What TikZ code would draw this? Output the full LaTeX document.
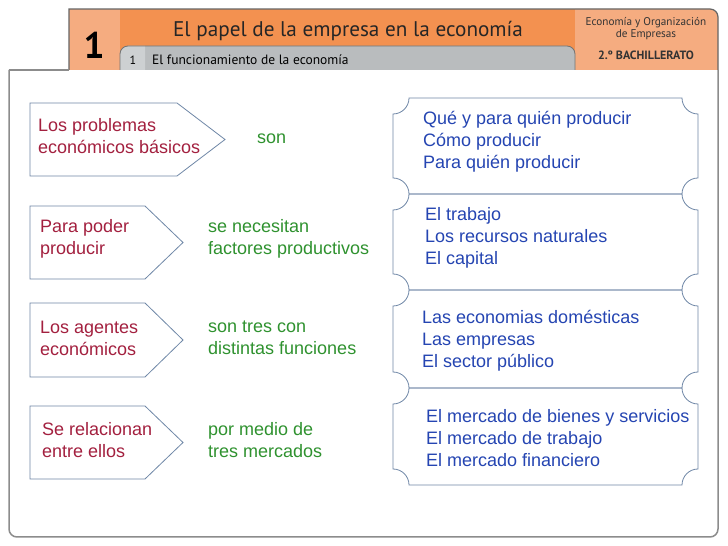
\documentclass[tikz,border=0pt]{standalone}
\usepackage{fontspec}
\setmainfont{Liberation Sans}
\newfontfamily\headfont{PT Sans}
\usetikzlibrary{calc}
\definecolor{orangemain}{HTML}{F39150}
\definecolor{orangelight}{HTML}{F5AC80}
\definecolor{tabgrey}{HTML}{B9BCBE}
\definecolor{tablight}{HTML}{CDD0D2}
\definecolor{boxblue}{HTML}{6F87A7}
\definecolor{redtext}{HTML}{A3203F}
\definecolor{greentext}{HTML}{2F922F}
\definecolor{bluetext}{HTML}{2545B2}
\def\arrowbox(#1,#2)(#3,#4)#5{\draw[boxline] (#1,#2) -- (#3,#2) -- (#5,{(#2+#4)/2}) -- (#3,#4) -- (#1,#4) -- cycle;}
\def\ticket(#1,#2)(#3,#4){\draw[boxline] (#1+16,#4) -- (#3-16,#4) arc (180:270:16) -- (#3,#2+16) arc (90:180:16) -- (#1+16,#2) arc (0:90:16) -- (#1,#4-16) arc (270:360:16) -- cycle;}
\tikzset{
  boxline/.style={line width=0.8pt, color=boxblue},
  txt/.style={inner sep=0pt, anchor=west, align=left, font=\fontsize{18}{21.8}\selectfont},
  redtxt/.style={txt, text=redtext},
  greentxt/.style={txt, text=greentext},
  bluetxt/.style={txt, text=bluetext}
}

\begin{document}
\begin{tikzpicture}[x=1pt, y=1pt]
		%%%%% START %%%%%
		\useasboundingbox (0,0) rectangle (728,546);
		\fill[white] (0,0) rectangle (728,546);
		
		% header
		\fill[orangelight] (69,476) rectangle (120,537);
		\fill[orangemain] (120,476) rectangle (575,537);
		\fill[orangelight] (575,476) -- (575,537) -- (710,537) arc (90:0:8) -- (718,476) -- cycle;
		\fill[tabgrey] (120,476) -- (120,492) arc (180:90:8) -- (567,500) arc (90:0:8) -- (575,476) -- cycle;
		\fill[tablight] (120,476) -- (120,492) arc (180:90:8) -- (145,500) -- (145,476) -- cycle;
		\draw[line width=0.8pt, color=black!55] (120,476) -- (120,492) arc (180:90:8) -- (567,500) arc (90:0:8) -- (575,476);
		\draw[line width=1.2pt, color=black!60] (69,476) -- (69,537) -- (710,537) arc (90:0:8) -- (718,476);
		
		\node[inner sep=0pt, font=\headfont\bfseries\fontsize{37}{37}\selectfont] (unit) at (94,501) {1};
		\node[inner sep=0pt, font=\headfont\fontsize{21.2}{22}\selectfont, text=black!85] (title) at (348,515) {El papel de la empresa en la economía};
		\node[inner sep=0pt, font=\headfont\fontsize{12}{12}\selectfont] (tabnum) at (133,486) {1};
		\node[inner sep=0pt, anchor=west, font=\headfont\fontsize{13.5}{14}\selectfont] (subtitle) at (152,486) {El funcionamiento de la economía};
		\node[inner sep=0pt, font=\headfont\fontsize{11.2}{12}\selectfont, text=black!80] (subject) at (646,523) {Economía y Organización};
		\node[inner sep=0pt, font=\headfont\fontsize{11.2}{12}\selectfont, text=black!80] (subject2) at (646,511) {de Empresas};
		\node[inner sep=0pt, font=\headfont\bfseries\fontsize{12}{12}\selectfont, text=black!80] (course) at (646,491) {2.º BACHILLERATO};
		
		% frame
		\draw[line width=1.5pt, color=black!45] (9,476) -- (69,476);
		\draw[line width=1.5pt, color=black!45, rounded corners=8] (9,476) -- (9,9) -- (718,9) -- (718,476);
		
		% left column
		\arrowbox(30,443)(177,370){225}
		\arrowbox(30,340)(145,267){183}
		\arrowbox(30,243)(145,169){183}
		\arrowbox(30,140)(145,67){183}
		
		\node[redtxt] (prob) at (38,410) {Los problemas\\económicos básicos};
		\node[redtxt] (poder) at (40,307) {Para poder\\producir};
		\node[redtxt] (agentes) at (40,208) {Los agentes\\económicos};
		\node[redtxt] (relac) at (42,106) {Se relacionan\\entre ellos};
		
		\node[greentxt] (son) at (257,407) {son};
		\node[greentxt] (necesitan) at (208,307) {se necesitan\\factores productivos};
		\node[greentxt] (tres) at (208,208) {son tres con\\distintas funciones};
		\node[greentxt] (medio) at (208,106) {por medio de\\tres mercados};
		
		% right column
		\ticket(393,352)(698,448)
		\ticket(393,256)(698,352)
		\ticket(393,158)(698,256)
		\ticket(393,61)(698,158)
		
		\node[bluetxt] (preguntas) at (423,404) {Qué y para quién producir\\Cómo producir\\Para quién producir};
		\node[bluetxt] (factores) at (425,308) {El trabajo\\Los recursos naturales\\El capital};
		\node[bluetxt] (agentes2) at (422,205) {Las economias domésticas\\Las empresas\\El sector público};
		\node[bluetxt] (mercados) at (426,108) {El mercado de bienes y servicios\\El mercado de trabajo\\El mercado financiero};
		
		%%%%% END %%%%%
	\end{tikzpicture}
\end{document}
